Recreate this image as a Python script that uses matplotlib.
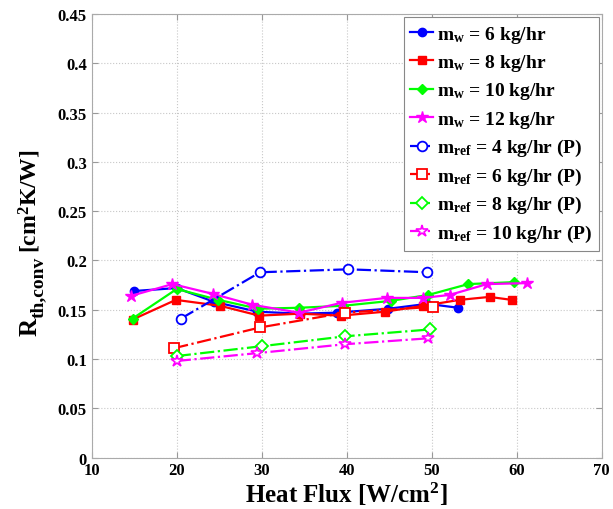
import numpy as np
import matplotlib
matplotlib.use('Agg')
import matplotlib.pyplot as plt

plt.rcParams['font.family'] = 'Liberation Serif'
plt.rcParams['font.weight'] = 'bold'
plt.rcParams['mathtext.fontset'] = 'custom'
plt.rcParams['mathtext.rm'] = 'Liberation Serif:bold'
plt.rcParams['mathtext.it'] = 'Liberation Serif:bold'
plt.rcParams['mathtext.bf'] = 'Liberation Serif:bold'

# water-side series (solid lines, filled markers)
x_w6 = [15.0, 20.0, 24.4, 29.5, 34.5, 38.8, 44.9, 49.5, 53.1]
y_w6 = [0.169, 0.172, 0.158, 0.148, 0.146, 0.147, 0.151, 0.156, 0.152]
x_w8 = [14.8, 19.9, 25.1, 29.7, 34.5, 39.3, 44.5, 49.0, 53.3, 56.8, 59.4]
y_w8 = [0.140, 0.160, 0.154, 0.144, 0.146, 0.144, 0.148, 0.154, 0.160, 0.163, 0.160]
x_w10 = [14.8, 20.0, 24.9, 29.6, 34.4, 39.6, 45.2, 49.6, 54.3, 59.7]
y_w10 = [0.141, 0.171, 0.160, 0.151, 0.152, 0.154, 0.159, 0.165, 0.176, 0.178]
x_w12 = [14.6, 19.5, 24.3, 28.9, 34.4, 39.4, 44.7, 49.0, 52.1, 56.5, 61.2]
y_w12 = [0.164, 0.176, 0.166, 0.155, 0.147, 0.157, 0.162, 0.162, 0.165, 0.176, 0.177]

# refrigerant-side predictions (dash-dot lines, open markers)
x_r4 = [20.5, 29.8, 40.2, 49.5]
y_r4 = [0.141, 0.188, 0.191, 0.188]
x_r6 = [19.7, 29.8, 39.8, 50.2]
y_r6 = [0.111, 0.132, 0.147, 0.153]
x_r8 = [20.0, 30.0, 39.8, 49.8]
y_r8 = [0.103, 0.113, 0.123, 0.130]
x_r10 = [20.0, 29.5, 39.8, 49.6]
y_r10 = [0.098, 0.106, 0.115, 0.121]

fig = plt.figure(figsize=(6.13, 5.10), dpi=100)
ax = fig.add_axes([0.1496, 0.1008, 0.832, 0.8698])

lw = 1.6
ax.plot(x_w6, y_w6, '-o', color='b', lw=lw, ms=6, label=r'm$_\mathrm{w}$ = 6 kg/hr')
ax.plot(x_w8, y_w8, '-s', color='r', lw=lw, ms=6, label=r'm$_\mathrm{w}$ = 8 kg/hr')
ax.plot(x_w10, y_w10, '-D', color='#00ff00', lw=lw, ms=5.5, label=r'm$_\mathrm{w}$ = 10 kg/hr')
ax.plot(x_w12, y_w12, '-*', color='#ff00ff', lw=lw, ms=9, label=r'm$_\mathrm{w}$ = 12 kg/hr')
ax.plot(x_r4, y_r4, '-.o', color='b', lw=lw, ms=7, mfc='white', mew=1.3,
        label=r'm$_\mathrm{ref}$ = 4 kg/hr (P)')
ax.plot(x_r6, y_r6, '-.s', color='r', lw=lw, ms=6.5, mfc='white', mew=1.3,
        label=r'm$_\mathrm{ref}$ = 6 kg/hr (P)')
ax.plot(x_r8, y_r8, '-.D', color='#00ff00', lw=lw, ms=6, mfc='white', mew=1.3,
        label=r'm$_\mathrm{ref}$ = 8 kg/hr (P)')
ax.plot(x_r10, y_r10, '-.*', color='#ff00ff', lw=lw, ms=9, mfc='white', mew=1.2,
        label=r'm$_\mathrm{ref}$ = 10 kg/hr (P)')

ax.set_xlim(10, 70)
ax.set_ylim(0, 0.45)
ax.set_xticks(np.arange(10, 71, 10))
yt = np.arange(0, 0.451, 0.05)
ax.set_yticks(yt)
ax.set_yticklabels(['0', '0.05', '0.1', '0.15', '0.2', '0.25', '0.3', '0.35', '0.4', '0.45'])
ax.tick_params(direction='in', top=True, right=True, labelsize=12, color='#999999', length=4)
for lab in ax.get_xticklabels() + ax.get_yticklabels():
    lab.set_fontweight('bold')
for s in ax.spines.values():
    s.set_color('#aaaaaa')
ax.grid(True, ls=':', color='#c8c8c8', lw=0.8)

ax.set_xlabel('Heat Flux [W/cm$^2$]', fontsize=18, fontweight='bold', labelpad=1)

# y label built from pieces so the subscript can stay large, as in the original
fig.canvas.draw()
r = fig.canvas.get_renderer()
W, H = fig.get_size_inches() * fig.dpi
bx = 37.0 / W          # baseline position (pixels from left)
y0 = 1 - 336.0 / H     # bottom of label
kw = dict(rotation=90, rotation_mode='anchor', ha='left', va='baseline', fontweight='bold')
t1 = fig.text(bx, y0, 'R', fontsize=18, **kw)
h1 = t1.get_window_extent(r).height / H
t2 = fig.text(bx + 6.0 / W, y0 + h1, 'th,conv', fontsize=14, **kw)
h2 = t2.get_window_extent(r).height / H
fig.text(bx, y0 + h1 + h2 + 4.0 / H, '[cm$^2$K/W]', fontsize=17, **kw)

leg = ax.legend(loc='upper right', fontsize=14, handlelength=1.15, handletextpad=0.2,
                borderaxespad=0.15, fancybox=False, framealpha=1, labelspacing=0.38,
                borderpad=0.35)
leg.get_frame().set_edgecolor('#888888')
leg.get_frame().set_linewidth(0.8)
for t in leg.get_texts():
    t.set_fontweight('bold')

plt.savefig('out.png', dpi=100)
